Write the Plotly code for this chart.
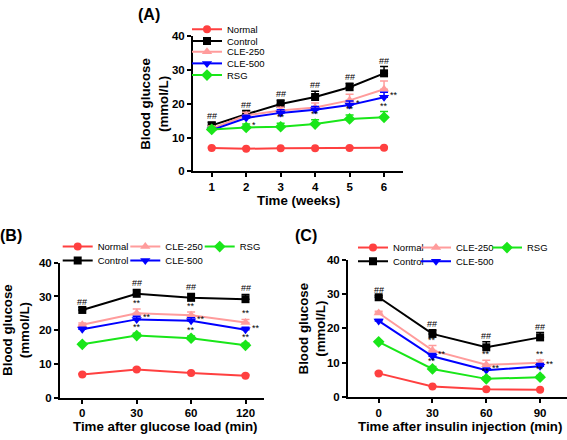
import plotly.graph_objects as go

W, H = 567, 440

# ---------------- data ----------------
series_names = ["Normal", "Control", "CLE-250", "CLE-500", "RSG"]
series_colors = ["#FF4040", "#000000", "#FF9C9C", "#0000FF", "#19E619"]
series_symbols = ["circle", "square", "triangle-up", "triangle-down", "diamond"]
series_sizes = [8, 8, 9, 9, 9]

# Panel A: weekly blood glucose
weeks = [1, 2, 3, 4, 5, 6]
normal_A = [6.9, 6.7, 6.8, 6.8, 6.9, 7.0]
control_A = [13.6, 16.9, 19.9, 22.0, 24.9, 29.0]
cle250_A = [12.6, 16.6, 18.0, 18.9, 21.0, 24.3]
cle500_A = [12.2, 15.8, 17.3, 18.2, 19.6, 21.9]
rsg_A = [12.4, 13.0, 13.2, 14.0, 15.5, 16.0]
normal_A_err = [0.2, 0.2, 0.2, 0.2, 0.2, 0.2]
control_A_err = [0.9, 1.1, 1.2, 1.7, 1.2, 2.0]
cle250_A_err = [0.8, 0.9, 1.0, 1.3, 1.8, 2.4]
cle500_A_err = [0.6, 0.8, 0.9, 1.0, 1.2, 1.5]
rsg_A_err = [0.6, 1.0, 1.0, 1.3, 1.2, 1.7]

# Panel B: OGTT
ogtt_times = ["0", "30", "60", "120"]
normal_B = [6.8, 8.3, 7.3, 6.5]
control_B = [26.0, 30.8, 29.6, 29.2]
cle250_B = [21.6, 25.0, 24.4, 22.3]
cle500_B = [20.3, 23.2, 22.8, 20.1]
rsg_B = [15.8, 18.4, 17.6, 15.5]
normal_B_err = [0.3, 0.4, 0.3, 0.3]
control_B_err = [0.7, 1.3, 1.3, 1.4]
cle250_B_err = [0.5, 1.3, 1.0, 0.9]
cle500_B_err = [0.6, 0.9, 0.9, 0.8]
rsg_B_err = [0.4, 0.7, 0.7, 0.6]

# Panel C: ITT
itt_times = ["0", "30", "60", "90"]
normal_C = [6.9, 3.1, 2.3, 2.1]
control_C = [29.1, 18.4, 14.5, 17.4]
cle250_C = [24.5, 13.6, 9.4, 10.0]
cle500_C = [22.2, 11.9, 7.8, 9.0]
rsg_C = [16.1, 8.2, 5.3, 5.8]
normal_C_err = [0.3, 0.2, 0.2, 0.2]
control_C_err = [0.5, 1.2, 1.6, 1.4]
cle250_C_err = [0.5, 1.4, 1.3, 0.8]
cle500_C_err = [0.4, 0.8, 0.7, 0.8]
rsg_C_err = [0.3, 0.7, 0.6, 0.5]

# significance marks
ctrl_sig_A = ["##", "##", "##", "##", "##", "##"]
cle500_sig_A_right = ["", "", "", "", "*", "**"]
rsg_sig_A = ["", "", "**", "**", "**", "**"]
rsg_sig_A_right = ["", "*", "", "", "", ""]

ctrl_sig_B = ["##", "##", "##", "##"]
cle250_sig_B = ["", "**", "**", "**"]
cle500_sig_B_right = ["", "**", "**", "**"]
rsg_sig_B = ["", "**", "**", "**"]

ctrl_sig_C = ["##", "##", "##", "##"]
cle250_sig_C = ["", "**", "**", "**"]
cle500_sig_C_right = ["", "**", "**", "**"]
rsg_sig_C = ["", "**", "**", "**"]

FONT = "Liberation Sans, Arial, sans-serif"

fig = go.Figure()

panels = [
    ("x", "y", weeks,
     [normal_A, control_A, cle250_A, cle500_A, rsg_A],
     [normal_A_err, control_A_err, cle250_A_err, cle500_A_err, rsg_A_err],
     ["legend", "legend2", "legend3", "legend4", "legend5"]),
    ("x2", "y2", ogtt_times,
     [normal_B, control_B, cle250_B, cle500_B, rsg_B],
     [normal_B_err, control_B_err, cle250_B_err, cle500_B_err, rsg_B_err],
     ["legend6", "legend7", "legend6", "legend7", "legend6"]),
    ("x3", "y3", itt_times,
     [normal_C, control_C, cle250_C, cle500_C, rsg_C],
     [normal_C_err, control_C_err, cle250_C_err, cle500_C_err, rsg_C_err],
     ["legend8", "legend9", "legend8", "legend9", "legend8"]),
]

legend_widths = {
    "x": [None] * 5,
    "x2": [22.6, 22.6, 29.4, 45, 30],
    "x3": [18, 18, 26, 45, 30],
}

for xa, ya, xs, vals, errs, legs in panels:
    for i in range(5):
        kw = {}
        if legend_widths[xa][i] is not None:
            kw["legendwidth"] = legend_widths[xa][i]
        fig.add_trace(go.Scatter(
            x=xs, y=vals[i], xaxis=xa, yaxis=ya,
            mode="lines+markers", name=series_names[i],
            line=dict(color=series_colors[i], width=2),
            marker=dict(symbol=series_symbols[i], size=series_sizes[i],
                        color=series_colors[i]),
            error_y=dict(type="data", symmetric=False, array=errs[i],
                         arrayminus=[0] * len(xs), color=series_colors[i],
                         thickness=1.5, width=4),
            legend=legs[i], showlegend=True, cliponaxis=False, **kw))

ann = []


def sig_above(xa, ya, n, vals, errs, labels):
    # n: positions along the axis (indices for category axes)
    for x, v, e, t in zip(n, vals, errs, labels):
        if t:
            ann.append(dict(x=x, y=v + e, xref=xa, yref=ya, text=t, showarrow=False,
                            xanchor="center", yanchor="bottom", yshift=-1,
                            font=dict(family=FONT, size=9, color="#000")))


def sig_right(xa, ya, n, vals, labels):
    for x, v, t in zip(n, vals, labels):
        if t:
            ann.append(dict(x=x, y=v, xref=xa, yref=ya, text=t, showarrow=False,
                            xanchor="left", yanchor="middle", xshift=4, yshift=2,
                            font=dict(family=FONT, size=9, color="#000")))


idxB = list(range(len(ogtt_times)))
idxC = list(range(len(itt_times)))

sig_above("x", "y", weeks, control_A, control_A_err, ctrl_sig_A)
sig_right("x", "y", weeks, cle500_A, cle500_sig_A_right)
sig_above("x", "y", weeks, rsg_A, rsg_A_err, rsg_sig_A)
sig_right("x", "y", weeks, rsg_A, rsg_sig_A_right)

sig_above("x2", "y2", idxB, control_B, control_B_err, ctrl_sig_B)
sig_above("x2", "y2", idxB, cle250_B, cle250_B_err, cle250_sig_B)
sig_right("x2", "y2", idxB, cle500_B, cle500_sig_B_right)
sig_above("x2", "y2", idxB, rsg_B, rsg_B_err, rsg_sig_B)

sig_above("x3", "y3", idxC, control_C, control_C_err, ctrl_sig_C)
sig_above("x3", "y3", idxC, cle250_C, cle250_C_err, cle250_sig_C)
sig_right("x3", "y3", idxC, cle500_C, cle500_sig_C_right)
sig_above("x3", "y3", idxC, rsg_C, rsg_C_err, rsg_sig_C)


def paper_text(x, y, text, size, angle=0, bold=True):
    ann.append(dict(x=x / W, y=1 - y / H, xref="paper", yref="paper", text=text,
                    showarrow=False, textangle=angle, xanchor="center", yanchor="middle",
                    font=dict(family=FONT, size=size, color="#000",
                              weight="bold" if bold else "normal")))


# panel labels
paper_text(149, 9, "(A)", 16)
paper_text(11, 236, "(B)", 16)
paper_text(306, 236, "(C)", 16)
# y titles
paper_text(154, 100.5, "Blood glucose<br>(mmol/L)", 13.3, angle=-90)
paper_text(16, 333, "Blood glucose<br>(mmol/L)", 13.3, angle=-90)
paper_text(312, 331.5, "Blood glucose<br>(mmol/L)", 13.3, angle=-90)
# x titles
paper_text(298, 199.5, "Time (weeks)", 13.3)
paper_text(165, 432, "Time after glucose load (min)", 13.3)
paper_text(460, 432, "Time after insulin injection (min)", 13.3)

axis_common = dict(showline=True, linecolor="#000", linewidth=2, ticks="outside",
                   ticklen=4, tickwidth=2, tickcolor="#000", showgrid=False, zeroline=False,
                   tickfont=dict(family=FONT, size=11.5, color="#000", weight="bold"))

layout = dict(
    width=W, height=H, margin=dict(l=0, r=0, t=0, b=0),
    paper_bgcolor="white", plot_bgcolor="white",
    font=dict(family=FONT, color="#000"),
    annotations=ann,
    xaxis=dict(domain=[193 / W, 403 / W], range=[0.457, 6.55], tickvals=weeks,
               anchor="y", **axis_common),
    yaxis=dict(domain=[1 - 170 / H, 1 - 31 / H], range=[0, 40],
               tickvals=[0, 10, 20, 30, 40], anchor="x", **axis_common),
    xaxis2=dict(domain=[60 / W, 264 / W], type="category", categoryarray=ogtt_times,
                range=[-0.41, 3.34], anchor="y2", **axis_common),
    yaxis2=dict(domain=[1 - 402.5 / H, 1 - 264 / H], range=[0, 40],
                tickvals=[0, 10, 20, 30, 40], anchor="x2", **axis_common),
    xaxis3=dict(domain=[348 / W, 1.0], type="category", categoryarray=itt_times,
                range=[-0.57, 3.5], anchor="y3", **axis_common),
    yaxis3=dict(domain=[1 - 402 / H, 1 - 261 / H], range=[0, 40],
                tickvals=[0, 10, 20, 30, 40], anchor="x3", **axis_common),
)

leg_font = dict(family=FONT, size=9.5, color="#000")


def leg(x, y, orient="v"):
    return dict(x=x / W, y=1 - y / H, xref="paper", yref="paper", xanchor="left",
                yanchor="middle", orientation=orient, bgcolor="rgba(0,0,0,0)",
                borderwidth=0, font=leg_font, itemclick=False, itemdoubleclick=False)


rowsA = [24, 36, 47, 59, 71]
layout["legend"] = leg(187, rowsA[0])
layout["legend2"] = leg(187, rowsA[1])
layout["legend3"] = leg(187, rowsA[2])
layout["legend4"] = leg(187, rowsA[3])
layout["legend5"] = leg(187, rowsA[4])
layout["legend6"] = leg(57.7, 247.3, "h")
layout["legend7"] = leg(57.7, 261.7, "h")
layout["legend8"] = leg(353, 248.3, "h")
layout["legend9"] = leg(353, 262.3, "h")

fig.update_layout(**layout)
fig.write_html("out.html", config={"displayModeBar": False},
               post_script="document.body.style.margin='0';document.body.style.overflow='hidden';")
